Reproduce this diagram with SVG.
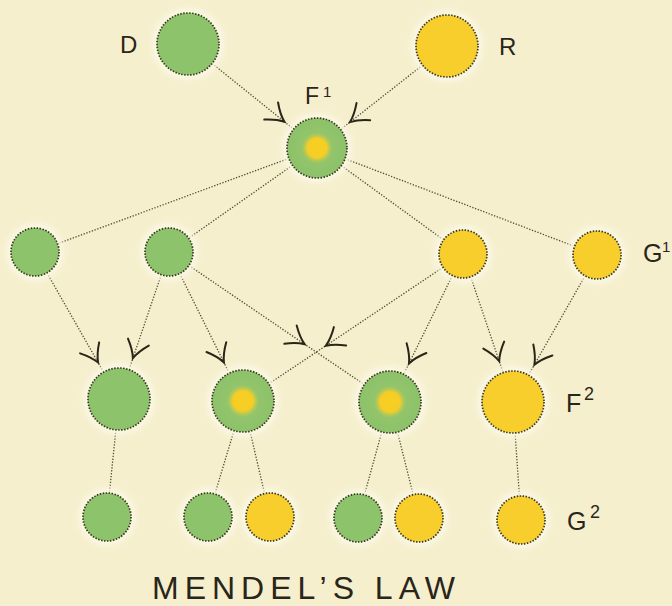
<svg xmlns="http://www.w3.org/2000/svg" width="672" height="606" viewBox="0 0 672 606">
<defs>
<style>
.halo{fill:#fbf8e4;filter:url(#blur)}
.g{fill:#8dc36b}
.y{fill:#f7ce2b}
.h{fill:url(#hyb)}
.n{stroke:#3b3822;stroke-width:1.7;stroke-dasharray:1.5 1.5}
.c{fill:none;stroke:#4f4a35;stroke-width:1.3;stroke-dasharray:1.3 1.6}
.a{marker-mid:url(#arr)}
.t{font-family:"Liberation Sans",Arial,sans-serif;fill:#2a2519}
</style>
<filter id="blur" x="-50%" y="-50%" width="200%" height="200%"><feGaussianBlur stdDeviation="3"/></filter>
<radialGradient id="hyb" cx="0.5" cy="0.5" r="0.5">
<stop offset="0" stop-color="#f8cf20"/>
<stop offset="0.32" stop-color="#f6cd26"/>
<stop offset="0.42" stop-color="#b5c956"/>
<stop offset="0.52" stop-color="#92c46b"/>
<stop offset="1" stop-color="#8cc26a"/>
</radialGradient>
<marker id="arr" markerUnits="userSpaceOnUse" orient="auto" refX="0" refY="0" markerWidth="40" markerHeight="40" viewBox="-20 -20 40 40" overflow="visible">
<path d="M-17,-11 Q-8,-3 0,0 Q-8,3 -17,11" fill="none" stroke="#2b2518" stroke-width="2" stroke-linecap="round"/>
</marker>
</defs>
<rect width="672" height="606" fill="#f5efcd"/>

<g id="connectors">
<path class="c a" d="M212,63.4 L284.4,121.7 L293.7,129.2"/>
<path class="c a" d="M422.6,65.1 L350,122.1 L340.6,129.5"/>
<path class="c" d="M288.9,158.4 L57.5,243.7"/>
<path class="c" d="M292.5,165.3 L188.6,238.2"/>
<path class="c" d="M341.3,165.6 L443.6,239.9"/>
<path class="c" d="M345,158.7 L574.6,246.4"/>
<path class="c a" d="M46.9,272.8 L98.1,362.6 L103.6,372.1"/>
<path class="c a" d="M161.3,274.7 L132.9,358.2 L129,369.6"/>
<path class="c a" d="M179.7,273.5 L223.9,362.4 L229.2,373.2"/>
<path class="c a" d="M188.9,265.5 L304.6,344.2 L364.4,384.6"/>
<path class="c a" d="M443,267.3 L325.9,345.7 L268.8,383.8"/>
<path class="c a" d="M452.4,275.5 L409,363.4 L403.7,374.2"/>
<path class="c a" d="M470.7,276.7 L499.2,361.2 L503.1,372.6"/>
<path class="c a" d="M585.1,275.8 L534.4,364.7 L528.4,375.1"/>
<path class="c" d="M115.9,429.8 L109.4,493.1"/>
<path class="c" d="M234,430.7 L214.9,494"/>
<path class="c" d="M250,431.2 L264.6,493.6"/>
<path class="c" d="M381.8,431.9 L364.4,494.9"/>
<path class="c" d="M397.5,432.1 L413.2,494.7"/>
<path class="c" d="M515.1,432.9 L519.4,496"/>
</g>

<g id="D"><circle class="halo" cx="188" cy="44" r="36"/><circle class="g n" cx="188" cy="44" r="31"/></g>
<g id="R"><circle class="halo" cx="447" cy="46" r="36"/><circle class="y n" cx="447" cy="46" r="31"/></g>
<g id="F1"><circle class="halo" cx="317" cy="148" r="35"/><circle class="h n" cx="317" cy="148" r="30"/></g>

<g id="G1a"><circle class="halo" cx="35" cy="252" r="29"/><circle class="g n" cx="35" cy="252" r="24"/></g>
<g id="G1b"><circle class="halo" cx="169" cy="252" r="29"/><circle class="g n" cx="169" cy="252" r="24"/></g>
<g id="G1c"><circle class="halo" cx="463" cy="254" r="29"/><circle class="y n" cx="463" cy="254" r="24"/></g>
<g id="G1d"><circle class="halo" cx="597" cy="255" r="29"/><circle class="y n" cx="597" cy="255" r="24"/></g>

<g id="F2a"><circle class="halo" cx="119" cy="399" r="36"/><circle class="g n" cx="119" cy="399" r="31"/></g>
<g id="F2b"><circle class="halo" cx="243" cy="401" r="36"/><circle class="h n" cx="243" cy="401" r="31"/></g>
<g id="F2c"><circle class="halo" cx="390" cy="402" r="36"/><circle class="h n" cx="390" cy="402" r="31"/></g>
<g id="F2d"><circle class="halo" cx="513" cy="402" r="36"/><circle class="y n" cx="513" cy="402" r="31"/></g>

<g id="G2a"><circle class="halo" cx="107" cy="517" r="29"/><circle class="g n" cx="107" cy="517" r="24"/></g>
<g id="G2b"><circle class="halo" cx="208" cy="517" r="29"/><circle class="g n" cx="208" cy="517" r="24"/></g>
<g id="G2c"><circle class="halo" cx="270" cy="517" r="29"/><circle class="y n" cx="270" cy="517" r="24"/></g>
<g id="G2d"><circle class="halo" cx="358" cy="518" r="29"/><circle class="g n" cx="358" cy="518" r="24"/></g>
<g id="G2e"><circle class="halo" cx="419" cy="518" r="29"/><circle class="y n" cx="419" cy="518" r="24"/></g>
<g id="G2f"><circle class="halo" cx="521" cy="520" r="29"/><circle class="y n" cx="521" cy="520" r="24"/></g>

<g id="labels">
<text class="t" x="120" y="53" font-size="24">D</text>
<text class="t" x="499" y="55" font-size="24">R</text>
<text class="t" x="305" y="104" font-size="23">F</text><text class="t" x="323" y="97" font-size="15">1</text>
<text class="t" x="643" y="262" font-size="25">G</text><text class="t" x="662" y="252" font-size="15">1</text>
<text class="t" x="566" y="412" font-size="25">F</text><text class="t" x="584" y="400" font-size="18">2</text>
<text class="t" x="567" y="530" font-size="25">G</text><text class="t" x="590" y="518" font-size="18">2</text>
<text class="t" x="152" y="599" font-size="32" textLength="303" lengthAdjust="spacing">MENDEL’S LAW</text>
</g>
</svg>
